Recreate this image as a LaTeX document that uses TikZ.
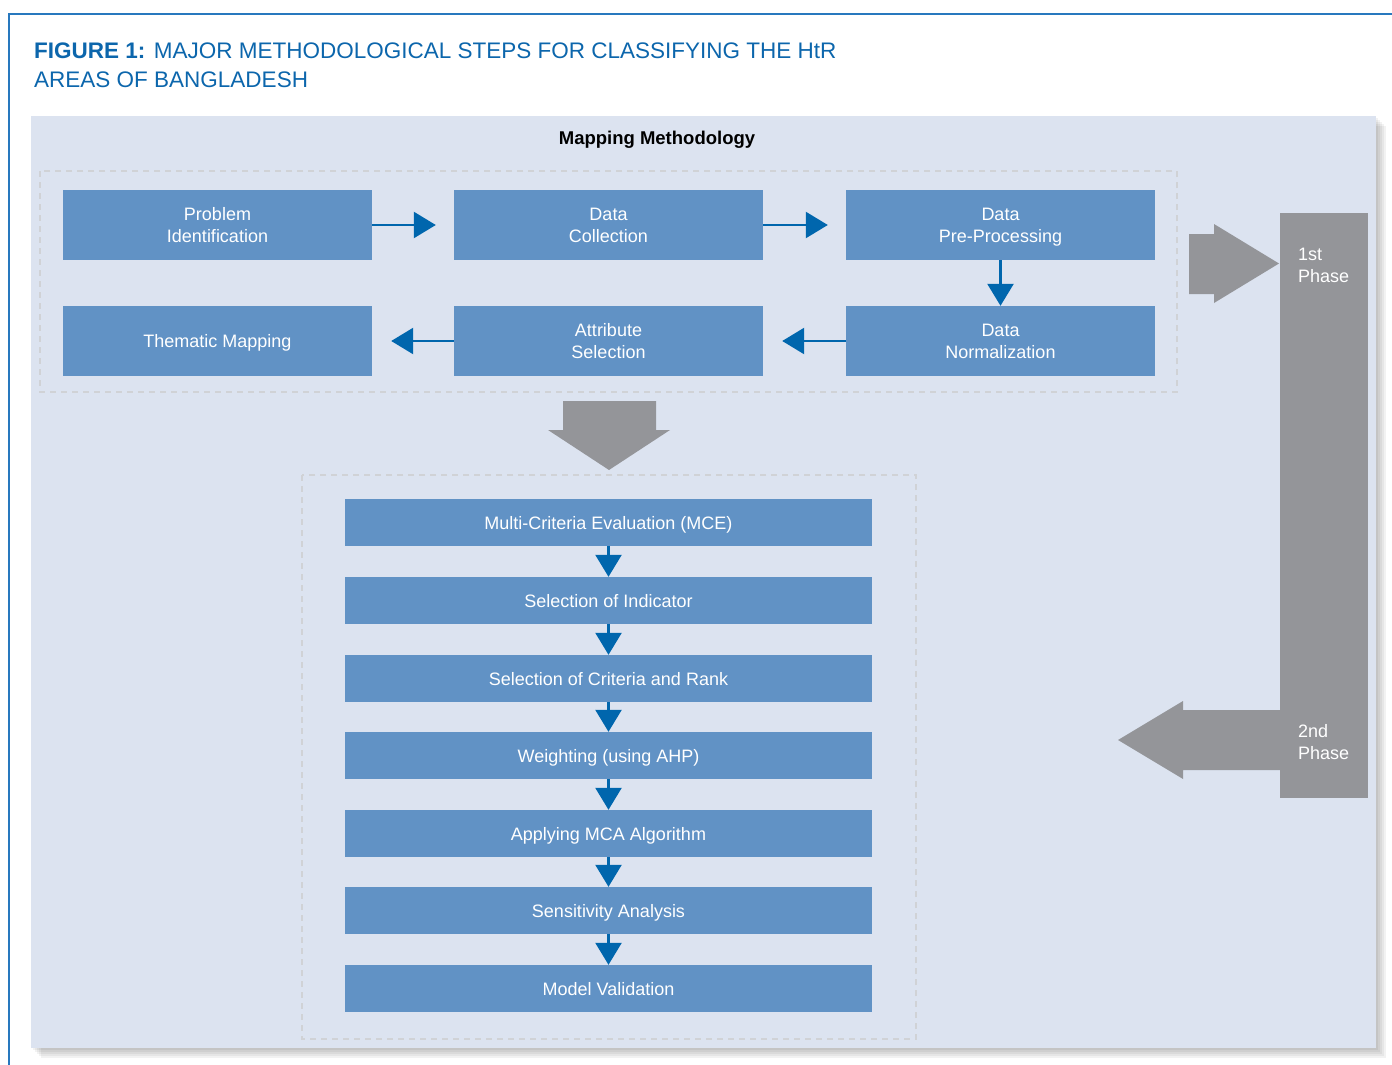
\documentclass[tikz,border=0pt]{standalone}
\usepackage{fontspec}
\setmainfont{Liberation Sans}
\usetikzlibrary{arrows.meta,positioning}

\definecolor{titleblue}{RGB}{12,102,172}
\definecolor{framblue}{RGB}{40,120,190}
\definecolor{panel}{RGB}{220,227,240}
\definecolor{boxblue}{RGB}{97,146,197}
\definecolor{arrowblue}{RGB}{0,102,173}
\definecolor{phasegray}{RGB}{148,149,153}
\definecolor{dashgray}{RGB}{208,210,214}

\begin{document}
\begin{tikzpicture}[x=1pt, y=-1pt,
    every node/.style={font=\fontsize{18}{22}\selectfont, inner sep=0pt},
    stepbox/.style={fill=boxblue, text=white, align=center, text depth=0pt},
    widebox/.style={stepbox, minimum width=309pt, minimum height=70pt},
    longbox/.style={stepbox, minimum width=527pt, minimum height=47pt},
    flow/.style={draw=arrowblue, line width=2.5pt, -{Triangle[length=22pt,width=26pt]}},
    frame/.style={draw=dashgray, line width=2.5pt, dash pattern=on 6pt off 5pt}]

    \useasboundingbox (0,0) rectangle (1392,1065);

    % Background
    \draw[framblue, line width=1.5pt] (9,1065) -- (9,14) -- (1392,14);
    \foreach \s in {2,4,...,10}
        \fill[black, opacity=0.05] (31+\s,116+\s) rectangle (1376+\s,1048+\s);
    \fill[panel] (31,116) rectangle (1376,1048);

    % Title
    \node (title) at (34,43) [anchor=north west, align=left, text=titleblue, font=\fontsize{22.5}{29}\selectfont]
        {\textbf{FIGURE 1:} MAJOR METHODOLOGICAL STEPS FOR CLASSIFYING THE HtR\\AREAS OF BANGLADESH};
    \node (mapping) at (657,140) [font=\bfseries\fontsize{18.5}{22}\selectfont] {Mapping Methodology};

    % Frames
    \draw[frame] (40,171) rectangle (1177,392);
    \draw[frame] (302,475) rectangle (916,1039);

    % Nodes: 1st phase
    \node (problem) at (217.5,225) [widebox] {Problem\\Identification};
    \node (collection) at (608.5,225) [widebox] {Data\\Collection};
    \node (preproc) at (1000.5,225) [widebox] {Data\\Pre-Processing};
    \node (thematic) at (217.5,341) [widebox] {Thematic Mapping};
    \node (attribute) at (608.5,341) [widebox] {Attribute\\Selection};
    \node (normal) at (1000.5,341) [widebox] {Data\\Normalization};

    % Nodes: 2nd phase
    \node (mce) at (608.5,522.5) [longbox] {Multi-Criteria Evaluation (MCE)};
    \node (indicator) at (608.5,600.5) [longbox] {Selection of Indicator};
    \node (criteria) at (608.5,678.5) [longbox] {Selection of Criteria and Rank};
    \node (weighting) at (608.5,755.5) [longbox] {Weighting (using AHP)};
    \node (mca) at (608.5,833.5) [longbox] {Applying MCA Algorithm};
    \node (sensitivity) at (608.5,910.5) [longbox] {Sensitivity Analysis};
    \node (validation) at (608.5,988.5) [longbox] {Model Validation};

    % Phase bar
    \node (bar) at (1324,505.5) [fill=phasegray, minimum width=88pt, minimum height=585pt] {};
    \node (first) at (1298,248) [anchor=north west, align=left, text=white] {1st\\Phase};
    \node (second) at (1298,724) [anchor=north west, align=left, text=white] {2nd\\Phase};

    % Gray arrows
    \fill[phasegray] (563,401) -- (656,401) -- (656,430) -- (670,430) -- (609,470)
        -- (548,430) -- (563,430) -- cycle;
    \fill[phasegray] (1189,234) -- (1214,234) -- (1214,224) -- (1279,263.5)
        -- (1214,303) -- (1214,294) -- (1189,294) -- cycle;
    \fill[phasegray] (1280,710) -- (1183,710) -- (1183,701) -- (1118,740)
        -- (1183,779) -- (1183,770) -- (1280,770) -- cycle;

    % Edges
    \draw[flow, shorten >=18pt] (problem) -- (collection);
    \draw[flow, shorten >=18pt] (collection) -- (preproc);
    \draw[flow] (preproc) -- (normal);
    \draw[flow, shorten >=19pt] (normal) -- (attribute);
    \draw[flow, shorten >=19pt] (attribute) -- (thematic);
    \draw[flow] (mce) -- (indicator);
    \draw[flow] (indicator) -- (criteria);
    \draw[flow] (criteria) -- (weighting);
    \draw[flow] (weighting) -- (mca);
    \draw[flow] (mca) -- (sensitivity);
    \draw[flow] (sensitivity) -- (validation);

\end{tikzpicture}
\end{document}
